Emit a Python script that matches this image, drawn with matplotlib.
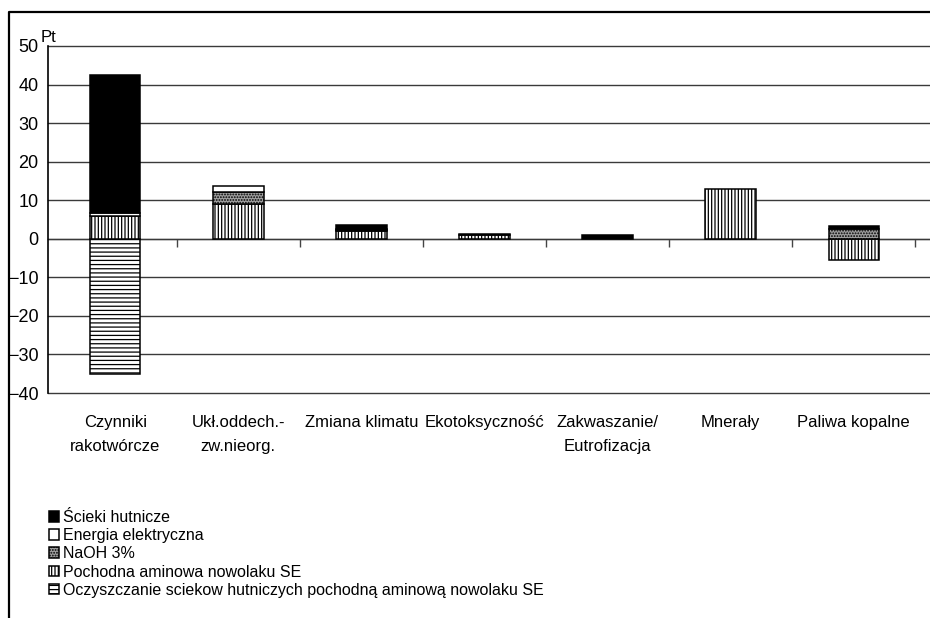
import numpy as np
import matplotlib
matplotlib.use("Agg")
import matplotlib.pyplot as plt
from matplotlib.lines import Line2D

plt.rcParams['font.family'] = ['Liberation Sans', 'DejaVu Sans']
plt.rcParams['hatch.linewidth'] = 0.9

# impact categories (Pt), stacked per process
categories = ["Czynniki\nrakotwórcze", "Ukł.oddech.-\nzw.nieorg.", "Zmiana klimatu",
              "Ekotoksyczność", "Zakwaszanie/\nEutrofizacja", "Mnerały", "Paliwa kopalne"]

oczyszczanie = [-35.0, 0, 0, 0, 0, 0, 0]
pochodna = [5.8, 9.1, 1.9, 0.9, 0, 12.9, -5.5]
naoh = [0, 3.0, 0.5, 0, 0, 0, 2.6]
energia = [0.9, 1.7, 0.1, 0, 0, 0, 0]
scieki = [35.7, 0, 1.0, 0.3, 0.9, 0, 0.6]

legend_labels = ["Ścieki hutnicze", "Energia elektryczna", "NaOH 3%",
                 "Pochodna aminowa nowolaku SE",
                 "Oczyszczanie sciekow hutniczych pochodną aminową nowolaku SE"]

# bottom-to-top stacking order
series = [
    (oczyszczanie, dict(facecolor="white", hatch="----")),
    (pochodna, dict(facecolor="white", hatch="|||||")),
    (naoh, dict(facecolor="#a0a0a0", hatch="......")),
    (energia, dict(facecolor="white")),
    (scieki, dict(facecolor="black")),
]

fig = plt.figure(figsize=(9.3, 6.18), dpi=100)
W, H = 930, 618
ax = fig.add_axes([48 / W, 1 - 393 / H, (945 - 48) / W, (393 - 46) / H])

x = np.arange(len(categories))
pos_base = np.zeros(len(categories))
neg_base = np.zeros(len(categories))
handles = []
for vals, style in series:
    v = np.array(vals, dtype=float)
    bottom = np.where(v >= 0, pos_base, neg_base)
    h = np.where(v == 0, np.nan, v)
    bars = ax.bar(x, h, bottom=bottom, width=0.41, edgecolor="black", linewidth=1.1, **style)
    handles.append(bars)
    pos_base += np.where(v > 0, v, 0)
    neg_base += np.where(v < 0, v, 0)

ax.set_ylim(-40, 50)
ax.set_yticks(range(-40, 51, 10))
ax.set_xlim(-0.546, 6.741)

ax.yaxis.grid(True, color="#3a3a3a", linewidth=1)
for gl in ax.get_ygridlines():
    gl.set_clip_on(False)
ax.set_axisbelow(True)
for s in ["top", "right", "bottom"]:
    ax.spines[s].set_visible(False)
ax.spines["left"].set_linewidth(1.2)

ax.tick_params(axis="y", length=0, pad=7, labelsize=13)
ax.set_xticks(x)
ax.set_xticklabels(categories, fontsize=12, linespacing=1.7, va="top")
ax.tick_params(axis="x", length=0, pad=16)

# zero line with category separator ticks
zero_ax = ax.secondary_xaxis(40 / 90)
zero_ax.set_xticks(np.arange(0.5, 7, 1))
zero_ax.set_xticklabels([])
zero_ax.tick_params(direction="out", length=6, color="#444444", width=1)
zero_ax.spines["bottom"].set_color("#777777")
zero_ax.spines["bottom"].set_linewidth(1)

ax.annotate("Pt", xy=(0, 1), xycoords="axes fraction", xytext=(-7, 1),
            textcoords="offset pixels", ha="left", va="bottom", fontsize=12)

# legend, top series first
fig.legend(handles[::-1], legend_labels, loc="upper left",
           bbox_to_anchor=(49 / W, 1 - 510 / H), frameon=False, fontsize=11.5,
           handlelength=0.65, handleheight=0.65, handletextpad=0.25,
           labelspacing=0.2, borderpad=0, borderaxespad=0)

# outer frame (left and top edges)
fig.add_artist(Line2D([9 / W, 9 / W, 1.02], [-0.02, 1 - 12 / H, 1 - 12 / H],
                      transform=fig.transFigure, color="black", linewidth=1.6))

plt.savefig("out.png", dpi=100)
